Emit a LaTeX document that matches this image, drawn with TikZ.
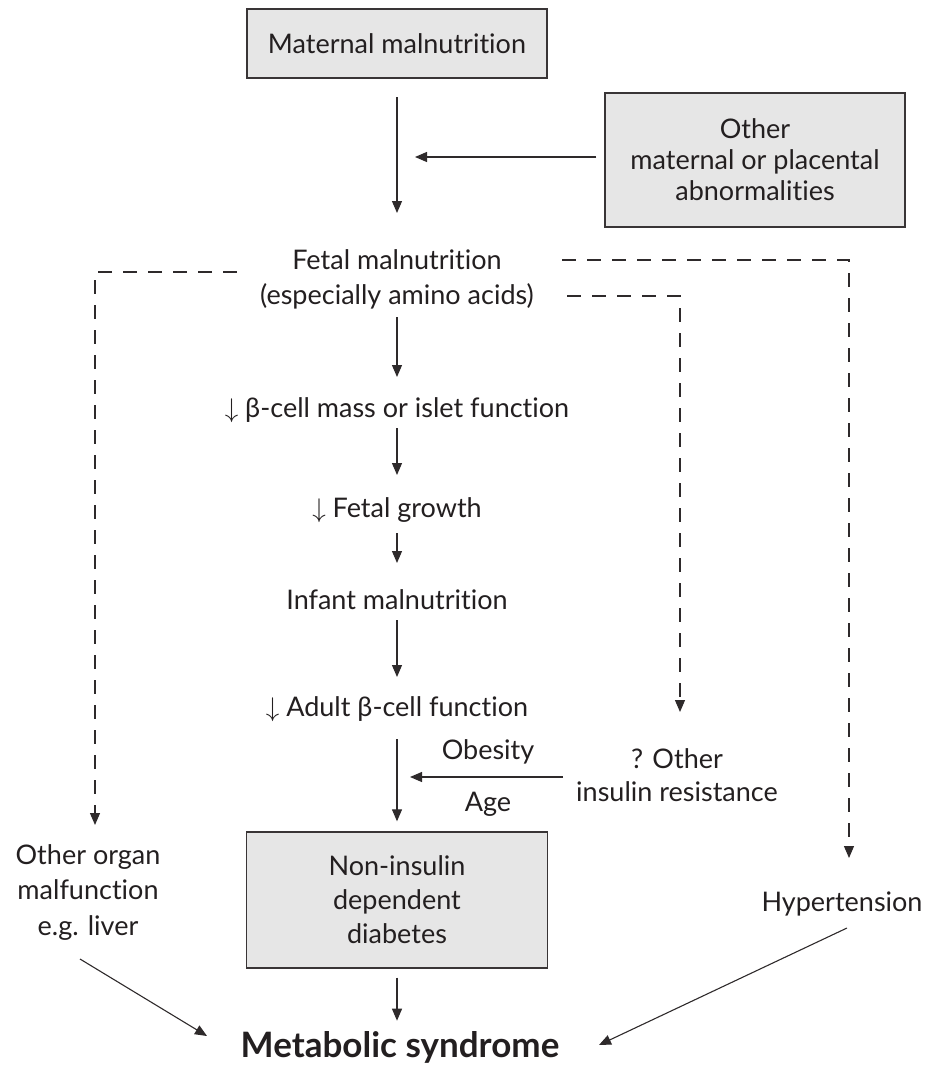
\RequirePackage{fix-cm}
\documentclass[tikz,border=0pt]{standalone}
\usepackage{fontspec}
\setmainfont{Lato}[Ligatures={NoCommon,NoRare,NoContextual}]
\usetikzlibrary{arrows.meta,calc}
\definecolor{ink}{HTML}{231F20}
\definecolor{boxfill}{HTML}{E6E6E6}
\newcommand{\dnarr}{$\downarrow$}
\begin{document}
\begin{tikzpicture}[x=1pt,y=-1pt,
  txt/.style={inner sep=0pt, text=ink, align=center, font=\fontsize{27}{35}\selectfont},
  txtone/.style={txt, text height=19pt, text depth=0pt},
  gbox/.style={draw=ink!90, line width=1.4pt, fill=boxfill, inner sep=0pt, text=ink, align=center, font=\fontsize{27}{31}\selectfont},
  arr/.style={-{Triangle[length=12pt,width=10pt]}, line width=1.2pt, draw=ink!95},
  dsh/.style={arr, dash pattern=on 14pt off 11pt}]
\useasboundingbox (0,0) rectangle (928,1068);

% nodes
\node[gbox, minimum width=300pt, minimum height=69pt] (mat) at (397,43.5) {Maternal malnutrition};
\node[gbox, minimum width=300pt, minimum height=134pt] (oth) at (755,160) {Other\\maternal or placental\\abnormalities};
\node[txt] (fet) at (397,279.5) {Fetal malnutrition\\(especially amino acids)};
\node[txtone] (beta) at (397,408) {\dnarr\ β-cell mass or islet function};
\node[txtone] (fg) at (397,508) {\dnarr\ Fetal growth};
\node[txtone] (inf) at (397,600) {Infant malnutrition};
\node[txtone] (adu) at (397,707) {\dnarr\ Adult β-cell function};
\node[txtone] (obe) at (488,750) {Obesity};
\node[txtone] (age) at (488,802) {Age};
\node[txt, font=\fontsize{27}{33}\selectfont] (oir) at (677,775.5) {? Other\\insulin resistance};
\node[gbox, minimum width=301pt, minimum height=136pt, font=\fontsize{27}{34}\selectfont] (dia) at (397,900) {Non-insulin\\dependent\\diabetes};
\node[txt, font=\fontsize{27}{35.5}\selectfont] (org) at (88,892.5) {Other organ\\malfunction\\e.g. liver};
\node[txtone] (hyp) at (842,902) {Hypertension};
\node[txt, font=\bfseries\fontsize{35}{41}\selectfont, text height=26pt, text depth=0pt] (met) at (400,1044) {Metabolic syndrome};

\coordinate (j1) at (415,157);
\coordinate (j2) at (410,777);

% solid connectors
\draw[arr] ($(mat.center)+(0,53.5)$) -- ($(fet.center)+(0,-66.5)$);
\draw[arr] ($(oth.west)+(-8,-3)$) -- (j1);
\draw[arr] ($(fet.center)+(0,37.5)$) -- ($(beta.center)+(0,-31)$);
\draw[arr] ($(beta.center)+(0,20)$) -- ($(fg.center)+(0,-33)$);
\draw[arr] ($(fg.center)+(0,25)$) -- ($(inf.center)+(0,-37)$);
\draw[arr] ($(inf.center)+(0,20)$) -- ($(adu.center)+(0,-30)$);
\draw[arr] ($(adu.center)+(0,32)$) -- ($(dia.north)+(0,-10)$);
\draw[arr] ($(oir.center)+(-114,1.5)$) -- (j2);
\draw[arr] ($(dia.south)+(0,9)$) -- ($(dia.south)+(0,52)$);
\draw[arr, line width=1.1pt] ($(org.center)+(-8,66.5)$) -- ($(met.center)+(-193,-8)$);
\draw[arr, line width=1.1pt] ($(hyp.center)+(5,26)$) -- ($(met.center)+(199,1)$);

% dashed connectors
\draw[dsh] ($(fet.center)+(-160,-7.5)$) -| ($(org.center)+(7,-67.5)$);
\draw[dsh] ($(fet.center)+(165,-19.5)$) -| ($(hyp.center)+(7,-44)$);
\draw[dsh] ($(fet.center)+(170,16.5)$) -| ($(oir.center)+(3,-63.5)$);
\end{tikzpicture}
\end{document}
